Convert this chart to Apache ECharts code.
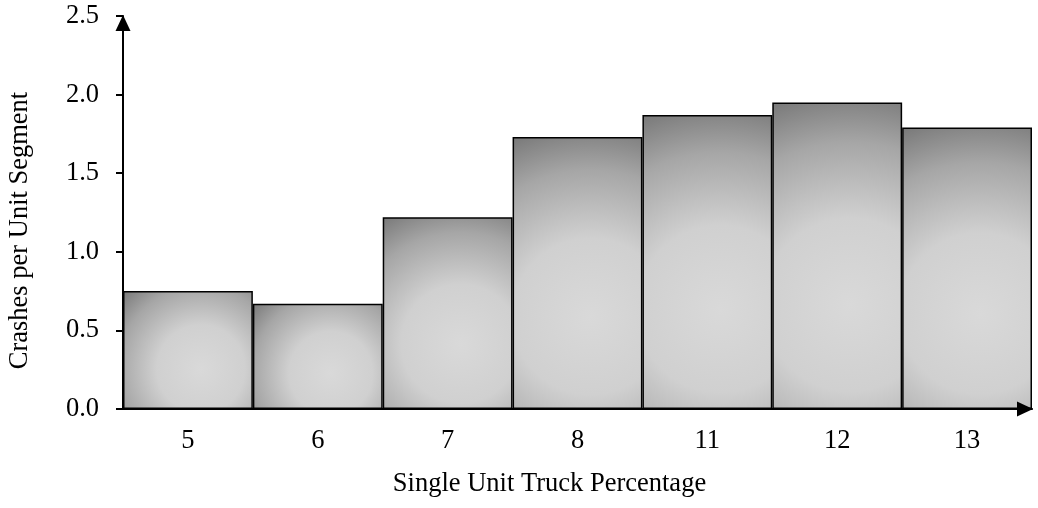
<!DOCTYPE html>
<html>
<head>
<meta charset="utf-8">
<script src="https://cdn.jsdelivr.net/npm/echarts@6/dist/echarts.min.js"></script>
<style>
html,body{margin:0;padding:0;background:#fff;}
#chart{width:1038px;height:508px;}
</style>
</head>
<body>
<div id="chart"></div>
<script>
const categories = ['5', '6', '7', '8', '11', '12', '13'];
const crashes = [0.75, 0.67, 1.22, 1.73, 1.87, 1.95, 1.79];
const yTicks = [0.0, 0.5, 1.0, 1.5, 2.0, 2.5];

const FONT = "'Liberation Serif', 'Times New Roman', serif";
const FS = 26.5;
const PX_PER_UNIT = 157.2, BAR_W = 130;

function barGradient(v) {
  const w = BAR_W, h = v * PX_PER_UNIT;
  const cx = 0.6, cy = 0.66;
  const m = Math.min(w, h);
  const d = Math.sqrt(Math.pow(cx * w, 2) + Math.pow(cy * h, 2));
  return {
    type: 'radial', x: cx, y: cy, r: d / m * 1.0,
    colorStops: [
      { offset: 0, color: '#d9d9d9' },
      { offset: 0.4, color: '#d0d0d0' },
      { offset: 0.75, color: '#a6a6a6' },
      { offset: 1, color: '#787878' }
    ]
  };
}

const chart = echarts.init(document.getElementById('chart'), null, { renderer: 'canvas' });
chart.setOption({
  animation: false,
  backgroundColor: '#ffffff',
  grid: { left: 123, right: 6, top: 16, bottom: 99, containLabel: false, outerBoundsMode: 'none' },
  xAxis: {
    type: 'category',
    z: 5,
    data: categories,
    name: 'Single Unit Truck Percentage',
    nameLocation: 'middle',
    nameGap: 62,
    nameTextStyle: { fontFamily: FONT, fontSize: FS, color: '#000', padding: [0, 56, 0, 0] },
    axisLine: { show: true, lineStyle: { color: '#000', width: 2 }, symbol: ['none', 'triangle'], symbolSize: [15, 16], symbolOffset: [0, -7] },
    axisTick: { show: false },
    axisLabel: { fontFamily: FONT, fontSize: FS, color: '#000', margin: 19 },
    splitLine: { show: false }
  },
  yAxis: {
    type: 'value',
    z: 5,
    min: yTicks[0],
    max: yTicks[yTicks.length - 1],
    interval: 0.5,
    name: 'Crashes per Unit Segment',
    nameLocation: 'middle',
    nameGap: 89,
    nameTextStyle: { fontFamily: FONT, fontSize: FS, color: '#000', padding: [0, 36, 0, 0] },
    axisLine: { show: true, lineStyle: { color: '#000', width: 2 }, symbol: ['none', 'triangle'], symbolSize: [15, 16], symbolOffset: [0, -7] },
    axisTick: { show: true, inside: false, length: 7, lineStyle: { color: '#000', width: 2 } },
    axisLabel: { fontFamily: FONT, fontSize: FS, color: '#000', margin: 24, formatter: v => v.toFixed(1) },
    splitLine: { show: false }
  },
  series: [{
    type: 'bar',
    barCategoryGap: '0%',
    data: crashes.map(v => ({ value: v, itemStyle: { color: barGradient(v) } })),
    itemStyle: { borderColor: '#000', borderWidth: 1.5 }
  }]
});
</script>
</body>
</html>
